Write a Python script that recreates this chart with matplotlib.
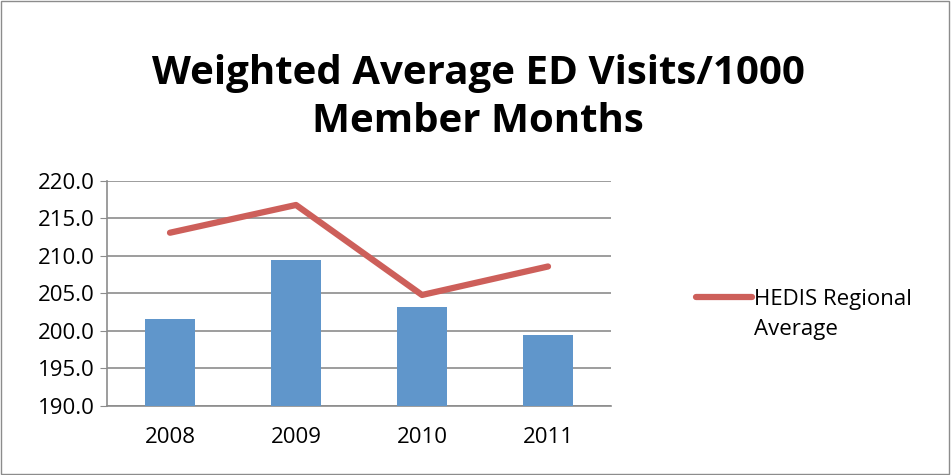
import matplotlib
matplotlib.use('Agg')
import matplotlib.pyplot as plt
from matplotlib.patches import Rectangle

years = ['2008', '2009', '2010', '2011']
ed_visits = [201.6, 209.5, 203.2, 199.4]
hedis_avg = [213.1, 216.8, 204.8, 208.6]
yticks = [190.0, 195.0, 200.0, 205.0, 210.0, 215.0, 220.0]

plt.rcParams['font.family'] = ['Open Sans', 'DejaVu Sans']

fig = plt.figure(figsize=(9.51, 4.75), dpi=100)
ax = fig.add_axes([0.1125, 0.1453, 0.53, 0.4737])

x = range(len(years))
ax.bar(x, ed_visits, width=0.4, color='#6096CB', zorder=3)
ax.plot(x, hedis_avg, color='#CD5F5A', lw=4.5, solid_capstyle='round',
        label='HEDIS Regional\nAverage', zorder=4)

ax.set_xlim(-0.5, len(years) - 0.5)
ax.set_ylim(190, 220)
ax.set_yticks(yticks)
ax.set_yticklabels(['%.1f' % v for v in yticks], fontsize=16)
ax.set_xticks(list(x))
ax.set_xticklabels(years, fontsize=16)
ax.tick_params(axis='x', length=0, pad=15)
ax.tick_params(axis='y', length=5, color='#8c8c8c', pad=4)
ax.yaxis.grid(True, color='#8c8c8c', lw=1.2, zorder=0)
for s in ['top', 'right']:
    ax.spines[s].set_visible(False)
for s in ['left', 'bottom']:
    ax.spines[s].set_color('#8c8c8c')
    ax.spines[s].set_linewidth(1.2)

fig.text(0.503, 0.795, 'Weighted Average ED Visits/1000\nMember Months',
         ha='center', va='center', fontsize=29, fontweight='bold',
         linespacing=1.3)

leg = fig.legend(loc='center left', bbox_to_anchor=(0.711, 0.338), frameon=False,
                 fontsize=16, handlelength=2.5, handletextpad=0.1)
for t in leg.get_texts():
    t.set_linespacing(1.55)
# Excel puts the legend key next to the first text line
for line in leg.get_lines():
    line.set_linewidth(4.5)
    line.set_ydata([v + 13 for v in line.get_ydata()])

fig.patches.append(Rectangle((0.001, 0.002), 0.997, 0.996, transform=fig.transFigure,
                             fill=False, edgecolor='#8c8c8c', lw=1))

fig.savefig('out.png', dpi=100)
